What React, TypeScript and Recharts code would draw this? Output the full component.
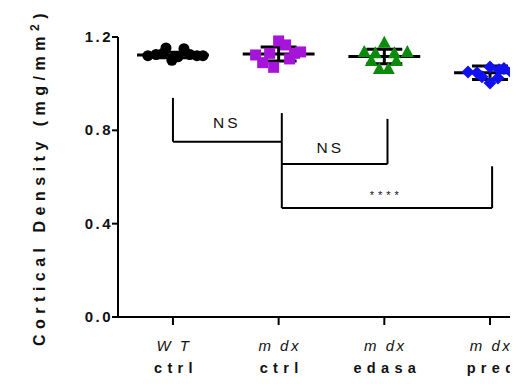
import React from 'react';
import { ComposedChart, Scatter, XAxis, YAxis, ReferenceLine, ReferenceDot } from 'recharts';

const genotypeLabels = ['W T', 'm dx', 'm dx', 'm dx'];
const treatmentLabels = ['ctrl', 'ctrl', 'edasa', 'pred'];
const yTicks = [0, 0.4, 0.8, 1.2];

const wtOffsets = [-0.237, -0.16, -0.095, -0.066, -0.01, 0.047, 0.104, 0.16, 0.227, 0.284];
const wtValues = [1.12, 1.125, 1.13, 1.153, 1.1, 1.115, 1.15, 1.125, 1.12, 1.12];
const ctrlOffsets = [-0.218, -0.151, -0.085, -0.047, 0, 0.066, 0.104, 0.151, 0.208];
const ctrlValues = [1.123, 1.09, 1.13, 1.07, 1.183, 1.166, 1.106, 1.13, 1.136];
const edasaOffsets = [-0.19, -0.123, -0.085, -0.047, 0, 0.038, 0.095, 0.114, 0.218];
const edasaValues = [1.136, 1.097, 1.13, 1.063, 1.175, 1.063, 1.13, 1.097, 1.136];
const predOffsets = [-0.208, -0.123, -0.076, 0, 0, 0.076, 0.085, 0.132, 0.199];
const predValues = [1.05, 1.047, 1.03, 1.071, 1.003, 1.024, 1.06, 1.065, 1.05];

const groupMeans = [1.123, 1.127, 1.116, 1.047];
const groupSDs = [0.012, 0.03, 0.031, 0.029];

const bracketLeftX = [0, 1.03, 1.03];
const bracketRightX = [1.03, 2.03, 3.02];
const bracketLevel = [0.751, 0.656, 0.467];
const bracketLeftTop = [0.939, 0.751, 0.656];
const bracketRightTop = [0.874, 0.849, 0.646];
const bracketLabels = ['NS', 'NS', '****'];
const bracketLabelX = [0.49, 1.47, 2.0];
const bracketLabelY = [0.832, 0.724, 0.527];

const toPoints = (group: number, offsets: number[], values: number[]) =>
  offsets.map((o, i) => ({ x: group + o, y: values[i] }));

const wtData = toPoints(0, wtOffsets, wtValues);
const ctrlData = toPoints(1, ctrlOffsets, ctrlValues);
const edasaData = toPoints(2, edasaOffsets, edasaValues);
const predData = toPoints(3, predOffsets, predValues);

const FONT = '"Liberation Sans", Arial, Helvetica, sans-serif';
const MEAN_HALF = 0.34;
const CAP_HALF = 0.17;

const CircleShape = (p: any) => <circle cx={p.cx} cy={p.cy} r={5.5} fill="#000" />;
const SquareShape = (p: any) => (
  <rect x={p.cx - 5.5} y={p.cy - 5.5} width={11} height={11} fill="#a514d8" />
);
const TriangleShape = (p: any) => (
  <polygon
    points={`${p.cx},${p.cy - 7} ${p.cx - 6.5},${p.cy + 5} ${p.cx + 6.5},${p.cy + 5}`}
    fill="#0c8a0c"
  />
);
const DiamondShape = (p: any) => (
  <polygon
    points={`${p.cx},${p.cy - 6.5} ${p.cx + 6.5},${p.cy} ${p.cx},${p.cy + 6.5} ${p.cx - 6.5},${p.cy}`}
    fill="#1010f0"
  />
);

const XTick = (props: any) => {
  const { x, y, payload } = props;
  const i = Math.round(payload.value);
  return (
    <g>
      <text x={x + 1} y={y + 24} textAnchor="middle" fontFamily={FONT} fontSize={15} fontStyle="italic" fill="#111" letterSpacing={2.5}>
        {genotypeLabels[i]}
      </text>
      <text x={x + 3} y={y + 46} textAnchor="middle" fontFamily={FONT} fontSize={14.5} fontWeight="bold" fill="#111" letterSpacing={5.3}>
        {treatmentLabels[i]}
      </text>
    </g>
  );
};

const YTick = (props: any) => {
  const { x, y, payload } = props;
  return (
    <text x={x + 3} y={y + 5} textAnchor="end" fontFamily={FONT} fontSize={15} fontWeight="bold" fill="#111" letterSpacing={2.5}>
      {Number(payload.value).toFixed(1)}
    </text>
  );
};

const YLabel = () => (
  <text
    x={37}
    y={169}
    transform="rotate(-90 37 169)"
    textAnchor="middle"
    fontFamily={FONT}
    fontSize={16}
    fontWeight="bold"
    fill="#111"
    letterSpacing={5.5}
  >
    Cortical Density (mg/mm
    <tspan dy={-6} fontSize={12}>2</tspan>
    <tspan dy={6}>)</tspan>
  </text>
);

export default function App() {
  return (
    <ComposedChart width={510} height={376} margin={{ top: 29, right: 0, bottom: 0, left: 0 }}>
      <XAxis
        type="number"
        dataKey="x"
        domain={[-0.52, 3.265]}
        ticks={[0, 1, 2, 3]}
        allowDataOverflow
        height={67}
        axisLine={{ stroke: '#000', strokeWidth: 2 }}
        tickLine={{ stroke: '#000', strokeWidth: 2 }}
        tickSize={8}
        tick={<XTick />}
      />
      <YAxis
        type="number"
        dataKey="y"
        domain={[0, 1.2]}
        ticks={yTicks}
        width={110}
        axisLine={{ stroke: '#000', strokeWidth: 2 }}
        tickLine={{ stroke: '#000', strokeWidth: 2 }}
        tickSize={6}
        tick={<YTick />}
        label={<YLabel />}
      />
      <Scatter data={wtData} shape={CircleShape} isAnimationActive={false} />
      <Scatter data={ctrlData} shape={SquareShape} isAnimationActive={false} />
      <Scatter data={edasaData} shape={TriangleShape} isAnimationActive={false} />
      <Scatter data={predData} shape={DiamondShape} isAnimationActive={false} />
      {groupMeans.map((m, i) => (
        <ReferenceLine
          key={`mean${i}`}
          segment={[{ x: i - MEAN_HALF, y: m }, { x: i + MEAN_HALF, y: m }]}
          stroke="#000"
          strokeWidth={3}
          ifOverflow="visible"
        />
      ))}
      {groupMeans.map((m, i) => (
        <ReferenceLine
          key={`sdu${i}`}
          segment={[{ x: i - CAP_HALF, y: m + groupSDs[i] }, { x: i + CAP_HALF, y: m + groupSDs[i] }]}
          stroke="#000"
          strokeWidth={3}
          ifOverflow="visible"
        />
      ))}
      {groupMeans.map((m, i) => (
        <ReferenceLine
          key={`sdl${i}`}
          segment={[{ x: i - CAP_HALF, y: m - groupSDs[i] }, { x: i + CAP_HALF, y: m - groupSDs[i] }]}
          stroke="#000"
          strokeWidth={3}
          ifOverflow="visible"
        />
      ))}
      {groupMeans.map((m, i) => (
        <ReferenceLine
          key={`sdv${i}`}
          segment={[{ x: i, y: m - groupSDs[i] }, { x: i, y: m + groupSDs[i] }]}
          stroke="#000"
          strokeWidth={3}
          ifOverflow="visible"
        />
      ))}
      {bracketLevel.map((lv, i) => (
        <ReferenceLine
          key={`bh${i}`}
          segment={[{ x: bracketLeftX[i], y: lv }, { x: bracketRightX[i], y: lv }]}
          stroke="#000"
          strokeWidth={2}
          ifOverflow="visible"
        />
      ))}
      {bracketLevel.map((lv, i) => (
        <ReferenceLine
          key={`bl${i}`}
          segment={[{ x: bracketLeftX[i], y: lv }, { x: bracketLeftX[i], y: bracketLeftTop[i] }]}
          stroke="#000"
          strokeWidth={2}
          ifOverflow="visible"
        />
      ))}
      {bracketLevel.map((lv, i) => (
        <ReferenceLine
          key={`br${i}`}
          segment={[{ x: bracketRightX[i], y: lv }, { x: bracketRightX[i], y: bracketRightTop[i] }]}
          stroke="#000"
          strokeWidth={2}
          ifOverflow="visible"
        />
      ))}
      {bracketLabels.map((t, i) => (
        <ReferenceDot
          key={`lab${i}`}
          x={bracketLabelX[i]}
          y={bracketLabelY[i]}
          r={0}
          ifOverflow="visible"
          shape={(p: any) => (
            <text
              x={p.cx + 2}
              y={p.cy + 5}
              textAnchor="middle"
              fontFamily={FONT}
              fontSize={t === '****' ? 11 : 15.5}
              fill="#111"
              letterSpacing={t === '****' ? 4 : 3}
            >
              {t}
            </text>
          )}
        />
      ))}
    </ComposedChart>
  );
}
